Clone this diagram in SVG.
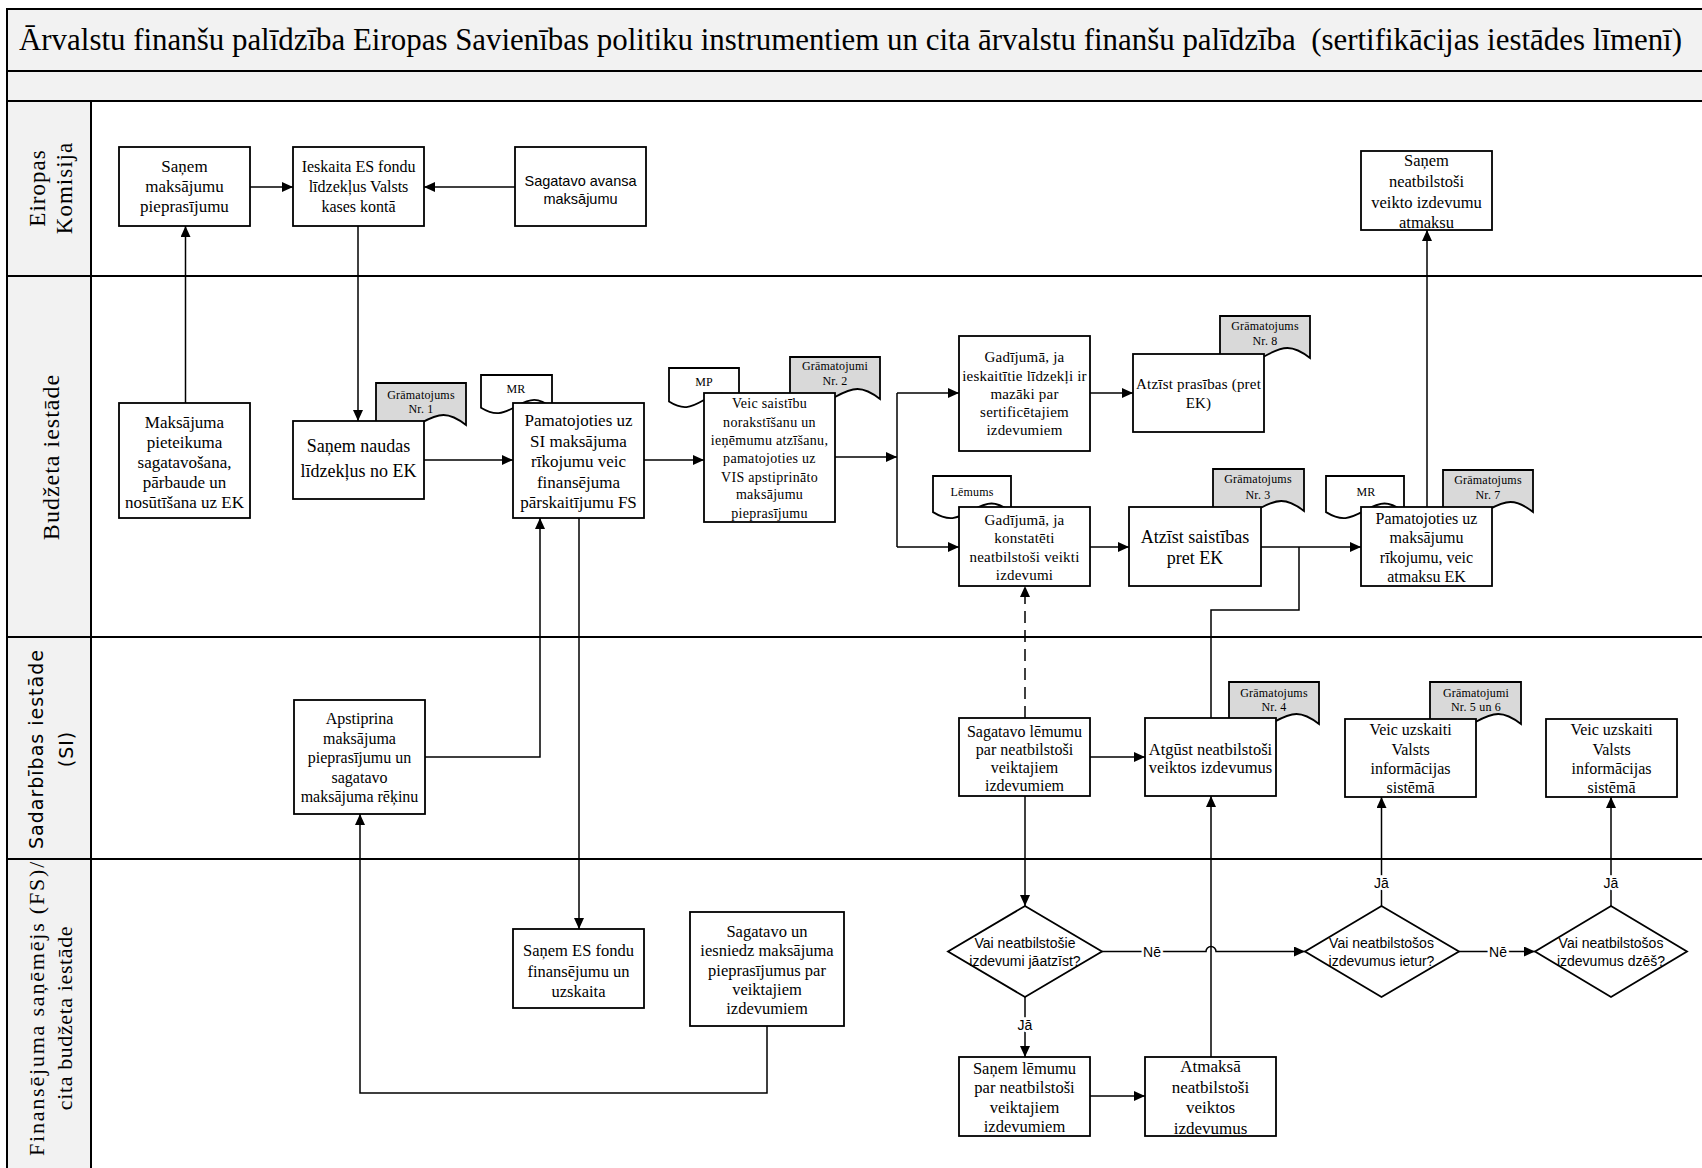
<svg xmlns="http://www.w3.org/2000/svg" xmlns:xlink="http://www.w3.org/1999/xlink" width="1702" height="1168" viewBox="0 0 1702 1168">
<style>
.band{fill:#f2f2f2;stroke:#000;stroke-width:2}
.lane{fill:none;stroke:#000;stroke-width:2}
.box{fill:#fff;stroke:#000;stroke-width:1.8}
.doc{stroke:#000;stroke-width:1.8}
.g{fill:#d9d9d9}
.w{fill:#fff}
.c{fill:none;stroke:#000;stroke-width:1.5}
.a{marker-end:url(#arr)}
.dash{stroke-dasharray:12,7}
.t{font-family:"Liberation Serif","Times New Roman",serif;text-anchor:middle;fill:#000}
.title{font-family:"Liberation Serif","Times New Roman",serif;font-size:31px;fill:#000;white-space:pre}
.s{font-family:"Liberation Sans",Arial,sans-serif;text-anchor:middle;fill:#000}
.dv{font-family:"DejaVu Sans",Verdana,sans-serif;text-anchor:middle;fill:#000}
.lbl{font-family:"Liberation Sans",Arial,sans-serif;text-anchor:middle;font-size:14px;fill:#000;stroke:#fff;stroke-width:5;paint-order:stroke}
.f16{font-size:16px}.f15{font-size:15px}.f14{font-size:14px}.f17{font-size:17px}.f18{font-size:18px}
.d{font-size:12px;letter-spacing:0.2px}
</style>
<defs>
<marker id="arr" markerUnits="userSpaceOnUse" markerWidth="11" markerHeight="10" refX="11" refY="5" orient="auto">
<path d="M0,0 L11,5 L0,10 Z" fill="#000"/>
</marker>
<path id="docshape" d="M0,0 H100 V42 C80,28 70,30 50,40 C30,50 20,53 0,42 Z" vector-effect="non-scaling-stroke"/>
</defs>

<rect x="0" y="0" width="1702" height="1168" fill="#fff"/>

<g id="frame">
<rect class="band" x="7" y="9" width="1710" height="62"/>
<rect class="band" x="7" y="71" width="1710" height="30"/>
<rect class="band" x="7" y="101" width="84" height="1080"/>
<line class="lane" x1="7" y1="276" x2="1710" y2="276"/>
<line class="lane" x1="7" y1="637" x2="1710" y2="637"/>
<line class="lane" x1="7" y1="859" x2="1710" y2="859"/>
<line class="lane" x1="7" y1="101" x2="1710" y2="101"/>
<text class="title" x="19" y="50" textLength="1663" lengthAdjust="spacingAndGlyphs">Ārvalstu finanšu palīdzība Eiropas Savienības politiku instrumentiem un cita ārvalstu finanšu palīdzība  (sertifikācijas iestādes līmenī)</text>
</g>

<g id="lane-labels">
<text class="t" font-size="23" letter-spacing="1" transform="translate(45,188) rotate(-90)">Eiropas</text>
<text class="t" font-size="23" letter-spacing="1" transform="translate(72,188) rotate(-90)">Komisija</text>
<text class="t" font-size="24" letter-spacing="1" transform="translate(59,457) rotate(-90)">Budžeta iestāde</text>
<text class="dv" font-size="19" letter-spacing="1" transform="translate(43,749) rotate(-90)">Sadarbības iestāde</text>
<text class="dv" font-size="19" letter-spacing="1" transform="translate(73,749) rotate(-90)">(SI)</text>
<text class="t" font-size="22" letter-spacing="1.8" transform="translate(44,1008) rotate(-90)">Finansējuma saņēmējs (FS)/</text>
<text class="t" font-size="22" letter-spacing="0.6" transform="translate(72,1018) rotate(-90)">cita budžeta iestāde</text>
</g>

<g id="connectors">
<path class="c a" d="M185.5,403 V226"/>
<path class="c a" d="M250,187 H293"/>
<path class="c a" d="M515,187 H424"/>
<path class="c a" d="M358,226 V421"/>
<path class="c a" d="M424,460 H513"/>
<path class="c a" d="M644,460 H704"/>
<path class="c a" d="M835,457 H897"/>
<path class="c" d="M897,393 V547"/>
<path class="c a" d="M897,393 H959"/>
<path class="c a" d="M897,547 H959"/>
<path class="c a" d="M1090,393 H1133"/>
<path class="c a" d="M1090,547 H1129"/>
<path class="c a" d="M1261,547 H1361"/>
<path class="c a" d="M1427,507 V230"/>
<path class="c" d="M1211,718 V610 H1299 V547"/>
<path class="c a" d="M425,757 H540 V518"/>
<path class="c a" d="M579,518 V929"/>
<path class="c a" d="M767,1026 V1093 H360 V814"/>
<path class="c a dash" d="M1025,718 V586"/>
<path class="c a" d="M1025,796 V906"/>
<path class="c a" d="M1090,757 H1145"/>
<path class="c a" d="M1102,951.5 H1206 a5,5 0 0 1 10,0 H1305"/>
<path class="c a" d="M1025,997 V1057"/>
<path class="c a" d="M1090,1096 H1145"/>
<path class="c a" d="M1211,1057 V796"/>
<path class="c a" d="M1381.5,906 V797"/>
<path class="c a" d="M1459,951.5 H1535"/>
<path class="c a" d="M1611,906 V797"/>
<text class="lbl" x="1152" y="957">Nē</text>
<text class="lbl" x="1498" y="957">Nē</text>
<text class="lbl" x="1025" y="1030">Jā</text>
<text class="lbl" x="1381.5" y="888">Jā</text>
<text class="lbl" x="1611" y="888">Jā</text>
</g>

<g id="docs">
<use href="#docshape" class="doc w" transform="translate(481,375) scale(0.71,0.78)"/>
<use href="#docshape" class="doc g" transform="translate(376,383) scale(0.9,1)"/>
<use href="#docshape" class="doc w" transform="translate(669,368) scale(0.7,0.8)"/>
<use href="#docshape" class="doc g" transform="translate(790,357) scale(0.9,1)"/>
<use href="#docshape" class="doc g" transform="translate(1220,316) scale(0.9,1)"/>
<use href="#docshape" class="doc w" transform="translate(933,476) scale(0.78,0.86)"/>
<use href="#docshape" class="doc g" transform="translate(1213,469) scale(0.91,1)"/>
<use href="#docshape" class="doc w" transform="translate(1326,476) scale(0.78,0.86)"/>
<use href="#docshape" class="doc g" transform="translate(1443,470) scale(0.9,1)"/>
<use href="#docshape" class="doc g" transform="translate(1229,682) scale(0.9,1)"/>
<use href="#docshape" class="doc g" transform="translate(1430,682) scale(0.91,1)"/>
<text class="t d" x="516" y="393">MR</text>
<text class="t d" x="421" y="399">Grāmatojums</text><text class="t d" x="421" y="413">Nr. 1</text>
<text class="t d" x="704" y="386">MP</text>
<text class="t d" x="835" y="370">Grāmatojumi</text><text class="t d" x="835" y="385">Nr. 2</text>
<text class="t d" x="1265" y="330">Grāmatojums</text><text class="t d" x="1265" y="345">Nr. 8</text>
<text class="t d" x="972" y="496">Lēmums</text>
<text class="t d" x="1258" y="483">Grāmatojums</text><text class="t d" x="1258" y="499">Nr. 3</text>
<text class="t d" x="1366" y="496">MR</text>
<text class="t d" x="1488" y="484">Grāmatojums</text><text class="t d" x="1488" y="499">Nr. 7</text>
<text class="t d" x="1274" y="697">Grāmatojums</text><text class="t d" x="1274" y="711">Nr. 4</text>
<text class="t d" x="1476" y="697">Grāmatojumi</text><text class="t d" x="1476" y="711">Nr. 5 un 6</text>
</g>

<g id="n-ek-sanem">
<rect class="box" x="119" y="147" width="131" height="79"/>
<text class="t f17" x="184.5"><tspan x="184.5" y="172">Saņem</tspan><tspan x="184.5" y="192">maksājumu</tspan><tspan x="184.5" y="212">pieprasījumu</tspan></text>
</g>
<g id="n-ek-ieskaita">
<rect class="box" x="293" y="147" width="131" height="79"/>
<text class="t f16" x="358.5"><tspan x="358.5" y="172">Ieskaita ES fondu</tspan><tspan x="358.5" y="192">līdzekļus Valsts</tspan><tspan x="358.5" y="212">kases kontā</tspan></text>
</g>
<g id="n-ek-avansa">
<rect class="box" x="515" y="147" width="131" height="79"/>
<text class="s" font-size="14.5" x="580.5"><tspan x="580.5" y="186">Sagatavo avansa</tspan><tspan x="580.5" y="204">maksājumu</tspan></text>
</g>
<g id="n-ek-atmaksu">
<rect class="box" x="1361" y="151" width="131" height="79"/>
<text class="t" font-size="16.5" x="1426.5"><tspan x="1426.5" y="166">Saņem</tspan><tspan x="1426.5" y="187">neatbilstoši</tspan><tspan x="1426.5" y="208">veikto izdevumu</tspan><tspan x="1426.5" y="228">atmaksu</tspan></text>
</g>

<g id="n-bi-maksajuma">
<rect class="box" x="119" y="403" width="131" height="115"/>
<text class="t f17" x="184.5"><tspan x="184.5" y="428">Maksājuma</tspan><tspan x="184.5" y="448">pieteikuma</tspan><tspan x="184.5" y="468">sagatavošana,</tspan><tspan x="184.5" y="488">pārbaude un</tspan><tspan x="184.5" y="508">nosūtīšana uz EK</tspan></text>
</g>
<g id="n-bi-sanem-naudas">
<rect class="box" x="293" y="421" width="131" height="78"/>
<text class="t f18" x="358.5"><tspan x="358.5" y="452">Saņem naudas</tspan><tspan x="358.5" y="477">līdzekļus no EK</tspan></text>
</g>
<g id="n-bi-pamatojoties-si">
<rect class="box" x="513" y="403" width="131" height="115"/>
<text class="t f17" x="578.5"><tspan x="578.5" y="426">Pamatojoties uz</tspan><tspan x="578.5" y="447">SI maksājuma</tspan><tspan x="578.5" y="467">rīkojumu veic</tspan><tspan x="578.5" y="488">finansējuma</tspan><tspan x="578.5" y="508">pārskaitījumu FS</tspan></text>
</g>
<g id="n-bi-veic">
<rect class="box" x="704" y="393" width="131" height="129"/>
<text class="t f14" letter-spacing="0.3" x="769.5"><tspan x="769.5" y="408">Veic saistību</tspan><tspan x="769.5" y="426.5">norakstīšanu un</tspan><tspan x="769.5" y="445">ieņēmumu atzīšanu,</tspan><tspan x="769.5" y="463">pamatojoties uz</tspan><tspan x="769.5" y="481.5">VIS apstiprināto</tspan><tspan x="769.5" y="499">maksājumu</tspan><tspan x="769.5" y="517.5">pieprasījumu</tspan></text>
</g>
<g id="n-bi-gad1">
<rect class="box" x="959" y="336" width="131" height="115"/>
<text class="t f15" letter-spacing="0.2" x="1024.5"><tspan x="1024.5" y="362">Gadījumā, ja</tspan><tspan x="1024.5" y="380.5">ieskaitītie līdzekļi ir</tspan><tspan x="1024.5" y="399">mazāki par</tspan><tspan x="1024.5" y="417">sertificētajiem</tspan><tspan x="1024.5" y="435">izdevumiem</tspan></text>
</g>
<g id="n-bi-atzist-prasibas">
<rect class="box" x="1133" y="354" width="131" height="78"/>
<text class="t f15" letter-spacing="0.2" x="1198.5"><tspan x="1198.5" y="389">Atzīst prasības (pret</tspan><tspan x="1198.5" y="407.5">EK)</tspan></text>
</g>
<g id="n-bi-gad2">
<rect class="box" x="959" y="507" width="131" height="79"/>
<text class="t f15" letter-spacing="0.2" x="1024.5"><tspan x="1024.5" y="525">Gadījumā, ja</tspan><tspan x="1024.5" y="543">konstatēti</tspan><tspan x="1024.5" y="562">neatbilstoši veikti</tspan><tspan x="1024.5" y="580">izdevumi</tspan></text>
</g>
<g id="n-bi-atzist-saistibas">
<rect class="box" x="1129" y="507" width="132" height="79"/>
<text class="t f18" x="1195"><tspan x="1195" y="543">Atzīst saistības</tspan><tspan x="1195" y="564">pret EK</tspan></text>
</g>
<g id="n-bi-pamatojoties-mr">
<rect class="box" x="1361" y="507" width="131" height="79"/>
<text class="t f16" x="1426.5"><tspan x="1426.5" y="524">Pamatojoties uz</tspan><tspan x="1426.5" y="543">maksājumu</tspan><tspan x="1426.5" y="562.5">rīkojumu, veic</tspan><tspan x="1426.5" y="581.5">atmaksu EK</tspan></text>
</g>

<g id="n-si-apstiprina">
<rect class="box" x="294" y="700" width="131" height="114"/>
<text class="t f16" x="359.5"><tspan x="359.5" y="724">Apstiprina</tspan><tspan x="359.5" y="744">maksājuma</tspan><tspan x="359.5" y="763">pieprasījumu un</tspan><tspan x="359.5" y="783">sagatavo</tspan><tspan x="359.5" y="802">maksājuma rēķinu</tspan></text>
</g>
<g id="n-si-sagatavo-lemumu">
<rect class="box" x="959" y="718" width="131" height="78"/>
<text class="t f16" x="1024.5"><tspan x="1024.5" y="736.5">Sagatavo lēmumu</tspan><tspan x="1024.5" y="755">par neatbilstoši</tspan><tspan x="1024.5" y="772.5">veiktajiem</tspan><tspan x="1024.5" y="790.5">izdevumiem</tspan></text>
</g>
<g id="n-si-atgust">
<rect class="box" x="1145" y="718" width="131" height="78"/>
<text class="t" font-size="16.5" x="1210.5"><tspan x="1210.5" y="755">Atgūst neatbilstoši</tspan><tspan x="1210.5" y="773">veiktos izdevumus</tspan></text>
</g>
<g id="n-si-veic1">
<rect class="box" x="1345" y="719" width="131" height="78"/>
<text class="t f16" x="1410.5"><tspan x="1410.5" y="735">Veic uzskaiti</tspan><tspan x="1410.5" y="754.5">Valsts</tspan><tspan x="1410.5" y="773.5">informācijas</tspan><tspan x="1410.5" y="793">sistēmā</tspan></text>
</g>
<g id="n-si-veic2">
<rect class="box" x="1546" y="719" width="131" height="78"/>
<text class="t f16" x="1611.5"><tspan x="1611.5" y="735">Veic uzskaiti</tspan><tspan x="1611.5" y="754.5">Valsts</tspan><tspan x="1611.5" y="773.5">informācijas</tspan><tspan x="1611.5" y="793">sistēmā</tspan></text>
</g>

<g id="n-fs-sanem-es">
<rect class="box" x="513" y="929" width="131" height="79"/>
<text class="t" font-size="16.5" x="578.5"><tspan x="578.5" y="956">Saņem ES fondu</tspan><tspan x="578.5" y="977">finansējumu un</tspan><tspan x="578.5" y="997">uzskaita</tspan></text>
</g>
<g id="n-fs-sagatavo">
<rect class="box" x="690" y="912" width="154" height="114"/>
<text class="t" font-size="16.5" x="767"><tspan x="767" y="937">Sagatavo un</tspan><tspan x="767" y="956">iesniedz maksājuma</tspan><tspan x="767" y="975.5">pieprasījumus par</tspan><tspan x="767" y="995">veiktajiem</tspan><tspan x="767" y="1014">izdevumiem</tspan></text>
</g>
<g id="d1">
<path class="box" d="M1025,906 L1102,951.5 L1025,997 L948,951.5 Z"/>
<text class="s" font-size="14" x="1025"><tspan x="1025" y="948">Vai neatbilstošie</tspan><tspan x="1025" y="966">izdevumi jāatzīst?</tspan></text>
</g>
<g id="d2">
<path class="box" d="M1381.5,906 L1459,951.5 L1381.5,997 L1305,951.5 Z"/>
<text class="s" font-size="14" x="1381.5"><tspan x="1381.5" y="948">Vai neatbilstošos</tspan><tspan x="1381.5" y="966">izdevumus ietur?</tspan></text>
</g>
<g id="d3">
<path class="box" d="M1611,906 L1687,951.5 L1611,997 L1535,951.5 Z"/>
<text class="s" font-size="14" x="1611"><tspan x="1611" y="948">Vai neatbilstošos</tspan><tspan x="1611" y="966">izdevumus dzēš?</tspan></text>
</g>
<g id="n-fs-sanem-lemumu">
<rect class="box" x="959" y="1057" width="131" height="79"/>
<text class="t" font-size="16.5" x="1024.5"><tspan x="1024.5" y="1074">Saņem lēmumu</tspan><tspan x="1024.5" y="1093">par neatbilstoši</tspan><tspan x="1024.5" y="1113">veiktajiem</tspan><tspan x="1024.5" y="1132">izdevumiem</tspan></text>
</g>
<g id="n-fs-atmaksa">
<rect class="box" x="1145" y="1057" width="131" height="79"/>
<text class="t f17" x="1210.5"><tspan x="1210.5" y="1072">Atmaksā</tspan><tspan x="1210.5" y="1093">neatbilstoši</tspan><tspan x="1210.5" y="1113">veiktos</tspan><tspan x="1210.5" y="1134">izdevumus</tspan></text>
</g>
</svg>
